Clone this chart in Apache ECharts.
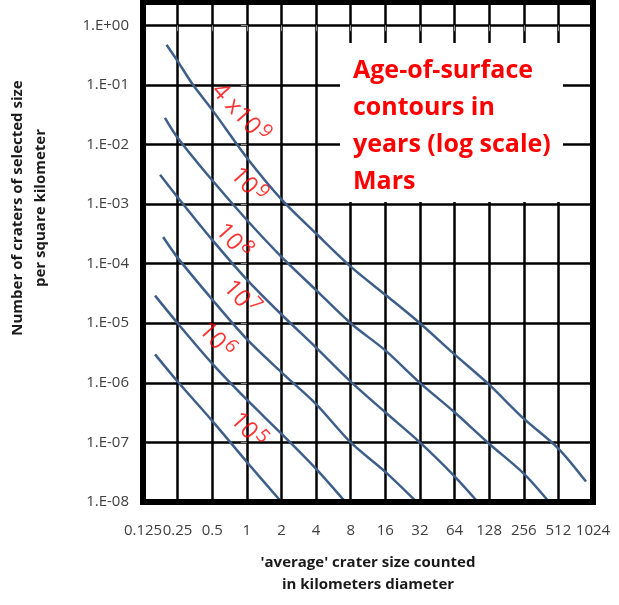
<!DOCTYPE html>
<html>
<head>
    <meta charset="UTF-8">
    <title>Mars age-of-surface contours</title>
    <script src="https://cdn.jsdelivr.net/npm/echarts@6.0.0/dist/echarts.min.js"></script>
    <style>
        html, body { margin: 0; padding: 0; background: #fff; }
        #chart { width: 619px; height: 605px; }
    </style>
</head>
<body>
    <div id="chart"></div>

    <script>
        // crater diameter (km) / crater density (per km2) along each age contour
        var size4e9 = [0.2, 0.25, 0.34, 0.5, 1, 2, 4, 8, 16, 32, 64, 128, 256, 512, 890];
        var dens4e9 = [4.7e-1, 2.5e-1, 1.0e-1, 3.8e-2, 6.0e-3, 1.2e-3, 3.2e-4, 8.9e-5, 3.0e-5, 1.0e-5, 3.0e-6, 9.3e-7, 2.5e-7, 7.9e-8, 2.2e-8];

        var size1e9 = [0.194, 0.25, 0.5, 1, 2, 4, 8, 16, 32, 64, 128, 256, 408];
        var dens1e9 = [2.8e-2, 1.3e-2, 2.5e-3, 5.4e-4, 1.3e-4, 3.6e-5, 1.0e-5, 3.5e-6, 1.0e-6, 3.2e-7, 9.5e-8, 3.0e-8, 1.1e-8];

        var size1e8 = [0.176, 0.25, 0.5, 1, 2, 4, 8, 16, 32, 64, 102];
        var dens1e8 = [3.1e-3, 1.3e-3, 2.5e-4, 5.4e-5, 1.4e-5, 3.9e-6, 1.05e-6, 3.2e-7, 1.0e-7, 2.7e-8, 1.0e-8];

        var size1e7 = [0.187, 0.25, 0.5, 1, 2, 4, 8, 16, 30];
        var dens1e7 = [2.8e-4, 1.26e-4, 2.5e-5, 5.4e-6, 1.5e-6, 4.4e-7, 1.0e-7, 3.2e-8, 1.0e-8];

        var size1e6 = [0.159, 0.25, 0.5, 1, 2, 4, 7.2];
        var dens1e6 = [2.9e-5, 1.0e-5, 2.1e-6, 5.2e-7, 1.4e-7, 3.6e-8, 1.0e-8];

        var size1e5 = [0.159, 0.25, 0.5, 1, 2];
        var dens1e5 = [3.0e-6, 1.05e-6, 2.3e-7, 4.7e-8, 1.0e-8];

        // contour labels: text, exponent, and the point where base meets exponent (km, per km2)
        var ageBase = ['4 x10', '10', '10', '10', '10', '10'];
        var ageExp = ['9', '9', '8', '7', '6', '5'];
        var ageLabelSize = [1.2, 1.13, 0.84, 0.98, 0.6, 1.13];
        var ageLabelDens = [1.66e-2, 1.64e-3, 1.88e-4, 2.1e-5, 4.1e-6, 1.27e-7];

        // axis ticks: powers of two in km, powers of ten in density
        var sizeTicks = [0.125, 0.25, 0.5, 1, 2, 4, 8, 16, 32, 64, 128, 256, 512, 1024];
        var densTicks = [1e-8, 1e-7, 1e-6, 1e-5, 1e-4, 1e-3, 1e-2, 1e-1, 1];

        var FONT = '"Open Sans", Lato, sans-serif';
        var grid = {left: 143, top: 2, width: 450, height: 500};
        var lineColor = '#3e5f8a';
        var labelRotate = -48;

        function toXY(sizes, dens) {
            return sizes.map(function (d, i) {
                return [Math.log2(d), Math.log10(dens[i])];
            });
        }

        var curves = [
            toXY(size4e9, dens4e9), toXY(size1e9, dens1e9), toXY(size1e8, dens1e8),
            toXY(size1e7, dens1e7), toXY(size1e6, dens1e6), toXY(size1e5, dens1e5)
        ];
        var anchors = toXY(ageLabelSize, ageLabelDens);

        var yTickVals = densTicks.map(function (n) { return Math.log10(n); });

        function yLabel(v) {
            if (Math.abs(v - Math.round(v)) > 1e-6) return '';
            var e = Math.round(v);
            var a = Math.abs(e);
            return '1.E' + (e < 0 ? '-' : '+') + (a < 10 ? '0' : '') + a;
        }

        function xLabel(v) {
            if (Math.abs(v - Math.round(v)) > 1e-6) return '';
            var i = Math.round(v) + 3;
            return sizeTicks[i] != null ? String(sizeTicks[i]) : '';
        }

        var series = curves.map(function (pts) {
            return {
                type: 'line',
                data: pts,
                smooth: 0.3,
                symbol: 'none',
                clip: true,
                lineStyle: {color: lineColor, width: 2.5},
                z: 3
            };
        });

        // base text ends at the anchor, the exponent starts there, lifted
        series.push({
            type: 'scatter',
            symbolSize: 0,
            z: 5,
            silent: true,
            data: anchors.map(function (p, i) {
                return {value: p, label: {formatter: ageBase[i]}};
            }),
            label: {
                show: true,
                position: 'inside',
                align: 'right',
                verticalAlign: 'middle',
                rotate: labelRotate,
                color: '#ff0000',
                fontSize: 24,
                fontFamily: FONT
            }
        });
        series.push({
            type: 'scatter',
            symbolSize: 0,
            z: 5,
            silent: true,
            data: anchors.map(function (p, i) {
                return {value: p, label: {formatter: ageExp[i]}};
            }),
            label: {
                show: true,
                position: 'inside',
                align: 'left',
                verticalAlign: 'middle',
                rotate: labelRotate,
                offset: [1, -7],
                color: '#ff0000',
                fontSize: 19,
                fontFamily: FONT
            }
        });

        var chart = echarts.init(document.getElementById('chart'), null, {renderer: 'canvas'});

        chart.setOption({
            backgroundColor: '#ffffff',
            animation: false,
            grid: grid,
            xAxis: {
                type: 'value',
                min: -3,
                max: 10,
                interval: 1,
                axisLine: {show: false},
                axisTick: {show: true, length: 6, lineStyle: {color: '#8c8c8c', width: 1}},
                splitLine: {show: true, lineStyle: {color: '#000', width: 2.5}},
                axisLabel: {
                    formatter: xLabel,
                    showMinLabel: true,
                    showMaxLabel: true,
                    margin: 21,
                    color: '#404040',
                    fontSize: 15,
                    fontFamily: FONT
                }
            },
            yAxis: {
                type: 'value',
                min: -8,
                max: 0.39,
                interval: 1,
                axisLine: {show: false},
                axisTick: {show: true, length: 6, customValues: yTickVals, lineStyle: {color: '#8c8c8c', width: 1}},
                splitLine: {show: true, lineStyle: {color: '#000', width: 2.5}},
                axisLabel: {
                    formatter: yLabel,
                    customValues: yTickVals,
                    showMinLabel: true,
                    margin: 14,
                    color: '#404040',
                    fontSize: 15,
                    fontFamily: FONT
                }
            },
            series: series,
            graphic: [
                {
                    type: 'rect',
                    z: 50,
                    shape: {x: 340, y: 43, width: 223, height: 159},
                    style: {fill: '#ffffff'}
                },
                {
                    type: 'text',
                    z: 51,
                    x: 353,
                    y: 52,
                    style: {
                        text: 'Age-of-surface\ncontours in\nyears (log scale)\nMars',
                        font: 'bold 25px ' + FONT,
                        lineHeight: 37,
                        fill: '#ff0000',
                        textAlign: 'left',
                        textVerticalAlign: 'top'
                    }
                },
                {
                    type: 'rect',
                    z: 60,
                    shape: {x: grid.left, y: grid.top, width: grid.width, height: grid.height},
                    style: {fill: null, stroke: '#000', lineWidth: 6}
                },
                {
                    type: 'text',
                    z: 51,
                    x: 368,
                    y: 574,
                    style: {
                        text: "'average' crater size counted\nin kilometers diameter",
                        font: 'bold 15px ' + FONT,
                        lineHeight: 22,
                        fill: '#1a1a1a',
                        textAlign: 'center',
                        textVerticalAlign: 'middle'
                    }
                },
                {
                    type: 'text',
                    z: 51,
                    x: 29,
                    y: 208,
                    rotation: Math.PI / 2,
                    style: {
                        text: 'Number of craters of selected size\nper square kilometer',
                        font: 'bold 15px ' + FONT,
                        lineHeight: 23,
                        fill: '#1a1a1a',
                        textAlign: 'center',
                        textVerticalAlign: 'middle'
                    }
                }
            ]
        });
    </script>
</body>
</html>
